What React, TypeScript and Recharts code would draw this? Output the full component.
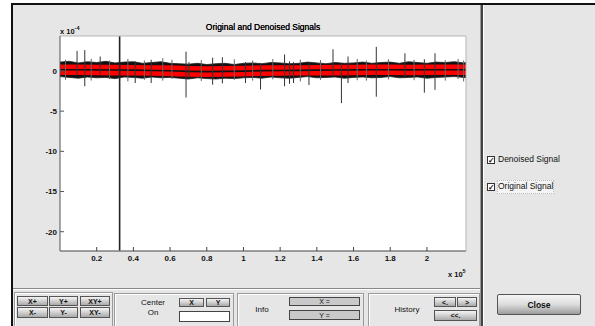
import React from 'react';
import { ComposedChart, Area, Line, XAxis, YAxis, CartesianGrid } from 'recharts';

// x in units of 1e5 samples, y in units of 1e-4
const xTicks = [0.2, 0.4, 0.6, 0.8, 1, 1.2, 1.4, 1.6, 1.8, 2];
const yTicks = [-20, -15, -10, -5, 0];
const xDomain = [0, 2.213];
const yDomain = [-22.4, 4.35];

// black noise envelope of the original signal
const fringeX = [0, 0.05, 0.1, 0.15, 0.2, 0.25, 0.3, 0.35, 0.4, 0.45, 0.5, 0.55, 0.6, 0.65, 0.7, 0.75, 0.8, 0.85, 0.9, 0.95, 1, 1.05, 1.1, 1.15, 1.2, 1.25, 1.3, 1.35, 1.4, 1.45, 1.5, 1.55, 1.6, 1.65, 1.7, 1.75, 1.8, 1.85, 1.9, 1.95, 2, 2.05, 2.1, 2.15, 2.2, 2.213];
const fringeTop = [1.1, 1.2, 1.0, 1.15, 1.05, 1.2, 1.0, 1.1, 1.15, 0.95, 1.05, 1.15, 0.95, 0.9, 0.85, 0.95, 0.8, 0.9, 0.95, 0.8, 0.95, 1.0, 0.9, 1.05, 1.0, 0.9, 0.95, 1.1, 1.0, 0.9, 1.05, 0.95, 1.0, 1.1, 0.95, 1.05, 1.1, 0.95, 1.15, 1.05, 0.95, 1.1, 1.05, 1.15, 1.0, 1.05];
const fringeBot = [-0.7, -0.8, -0.9, -0.75, -0.85, -0.8, -0.95, -0.75, -0.8, -0.9, -0.75, -0.85, -0.8, -0.9, -1.0, -0.85, -0.95, -1.0, -0.9, -0.95, -0.85, -0.8, -0.9, -0.75, -0.85, -0.9, -0.8, -0.7, -0.85, -0.8, -0.75, -0.9, -0.8, -0.75, -0.85, -0.8, -0.7, -0.85, -0.8, -0.75, -0.9, -0.8, -0.75, -0.7, -0.8, -0.85];

// red denoised signal band and the dark trace through it
const redX = [0, 0.1, 0.2, 0.3, 0.4, 0.5, 0.6, 0.7, 0.8, 0.9, 1, 1.1, 1.2, 1.3, 1.4, 1.5, 1.6, 1.7, 1.8, 1.9, 2, 2.1, 2.2, 2.213];
const redTop = [0.8, 0.8, 0.78, 0.78, 0.75, 0.72, 0.7, 0.62, 0.6, 0.62, 0.65, 0.7, 0.72, 0.72, 0.75, 0.78, 0.78, 0.8, 0.8, 0.78, 0.8, 0.8, 0.8, 0.8];
const redBot = [-0.5, -0.5, -0.52, -0.55, -0.58, -0.6, -0.65, -0.72, -0.75, -0.72, -0.68, -0.62, -0.6, -0.58, -0.55, -0.55, -0.52, -0.5, -0.5, -0.52, -0.5, -0.5, -0.5, -0.5];
const centerVal = [0.15, 0.15, 0.13, 0.12, 0.1, 0.06, 0.03, -0.05, -0.08, -0.05, -0.02, 0.04, 0.06, 0.07, 0.1, 0.12, 0.13, 0.15, 0.15, 0.13, 0.15, 0.15, 0.15, 0.15];

// spikes of the original signal
const spikeX = [0.093, 0.135, 0.219, 0.41, 0.497, 0.687, 0.703, 0.832, 0.885, 1.011, 1.093, 1.224, 1.251, 1.273, 1.357, 1.488, 1.534, 1.57, 1.724, 1.88, 1.986, 2.044];
const spikeUp = [2.5, 2.6, 1.8, 1.2, 1.4, 2.4, 1.1, 1.65, 1.7, 1.1, 1.0, 2.05, 1.2, 1.1, 1.0, 2.7, 0.9, 1.8, 3.0, 2.2, 1.45, 2.2];
const spikeDown = [-0.5, -1.9, -0.4, -1.5, -1.5, -3.3, -0.9, -1.7, -1.55, -1.5, -2.3, -1.9, -1.6, -1.5, -1.75, -0.7, -4.0, -1.5, -3.2, -0.9, -2.7, -2.35];

const whiskerX = [0.03, 0.17, 0.27, 0.37, 0.46, 0.56, 0.61, 0.77, 0.95, 1.05, 1.16, 1.31, 1.42, 1.62, 1.67, 1.79, 1.93, 2.1, 2.17, 2.2];
const whiskerUp = [1.4, 1.5, 1.3, 1.5, 1.3, 1.6, 1.4, 1.35, 1.45, 1.3, 1.5, 1.4, 1.35, 1.5, 1.3, 1.45, 1.4, 1.35, 1.5, 1.3];
const whiskerDown = [-1.1, -1.2, -1.0, -1.3, -1.1, -1.2, -1.0, -1.25, -1.1, -1.2, -1.05, -1.3, -1.1, -1.15, -1.2, -1.05, -1.15, -1.2, -1.0, -1.3];

const bigSpikeX = 0.325;
const bigSpikeY = [4.35, -22.35];

type Row = {
    x: number;
    fringe?: number[];
    red?: number[];
    center?: number;
    spike?: number | null;
    whisker?: number | null;
    big?: number | null;
};

const rows: Row[] = [];
fringeX.forEach((x, i) => rows.push({ x, fringe: [fringeBot[i], fringeTop[i]] }));
redX.forEach((x, i) => rows.push({ x, red: [redBot[i], redTop[i]], center: centerVal[i] }));
whiskerX.forEach((x, i) => {
    rows.push({ x, whisker: whiskerUp[i] }, { x, whisker: whiskerDown[i] }, { x, whisker: null });
});
spikeX.forEach((x, i) => {
    rows.push({ x, spike: spikeUp[i] }, { x, spike: spikeDown[i] }, { x, spike: null });
});
rows.push({ x: bigSpikeX, big: bigSpikeY[0] }, { x: bigSpikeX, big: bigSpikeY[1] }, { x: bigSpikeX, big: null });
rows.sort((a, b) => a.x - b.x);

const font = "'Liberation Sans', Arial, sans-serif";

const Btn = ({ left, top, w, h, label }: any) => (
    <div
        style={{
            position: 'absolute', left, top, width: w, height: h,
            boxSizing: 'border-box', border: '1px solid #555',
            background: 'linear-gradient(#f4f4f4, #d4d4d4 45%, #a9a9a9)',
            fontSize: 7, fontWeight: 'bold', color: '#111',
            display: 'flex', alignItems: 'center', justifyContent: 'center',
        }}
    >
        {label}
    </div>
);

const Field = ({ left, top, w, h, label, bg }: any) => (
    <div
        style={{
            position: 'absolute', left, top, width: w, height: h,
            boxSizing: 'border-box', border: '1px solid #444', background: bg,
            fontSize: 7, color: '#111',
            display: 'flex', alignItems: 'center', justifyContent: 'center',
        }}
    >
        {label}
    </div>
);

const Panel = ({ left, top, w, h }: any) => (
    <div
        style={{
            position: 'absolute', left, top, width: w, height: h,
            boxSizing: 'border-box', border: '1px solid #9a9a9a',
            boxShadow: 'inset 1px 1px 0 #fff',
        }}
    />
);

const Label = ({ left, top, text, size = 8 }: any) => (
    <div style={{ position: 'absolute', left, top, fontSize: size, color: '#111', whiteSpace: 'nowrap', lineHeight: 1 }}>
        {text}
    </div>
);

const CheckBox = ({ left, top }: any) => (
    <div
        style={{
            position: 'absolute', left, top, width: 8, height: 8,
            boxSizing: 'border-box', border: '1px solid #333', background: '#fff',
            fontSize: 8, lineHeight: '7px', textAlign: 'center', fontWeight: 'bold', color: '#111',
        }}
    >
        ✓
    </div>
);

const tickStyle = { fill: '#111', fontSize: 8, fontWeight: 'bold', fontFamily: font };

export default function App() {
    return (
        <div
            style={{
                position: 'absolute', left: 0, top: 0, width: 595, height: 326,
                overflow: 'hidden', background: '#fff', fontFamily: font,
            }}
        >
            {/* figure background and frame */}
            <div style={{ position: 'absolute', left: 13, top: 5, width: 582, height: 321, background: '#e6e6e6' }} />
            <div style={{ position: 'absolute', left: 11, top: 3, width: 584, height: 2, background: '#111' }} />
            <div style={{ position: 'absolute', left: 11, top: 3, width: 2, height: 323, background: '#111' }} />
            <div style={{ position: 'absolute', left: 480, top: 5, width: 1, height: 321, background: '#999' }} />
            <div style={{ position: 'absolute', left: 481, top: 5, width: 2, height: 321, background: '#444' }} />
            <div style={{ position: 'absolute', left: 483, top: 5, width: 1, height: 321, background: '#fff' }} />
            <div style={{ position: 'absolute', left: 13, top: 288, width: 467, height: 1, background: '#888' }} />
            <div style={{ position: 'absolute', left: 13, top: 289, width: 467, height: 1, background: '#fff' }} />

            <ComposedChart
                width={595}
                height={326}
                data={rows}
                margin={{ top: 26, right: 119, bottom: 55, left: 30 }}
                style={{ position: 'absolute', left: 0, top: 0 }}
            >
                <CartesianGrid horizontal={false} vertical={false} fill="#ffffff" />
                <XAxis
                    dataKey="x"
                    type="number"
                    domain={xDomain}
                    ticks={xTicks}
                    allowDataOverflow
                    height={20}
                    tickSize={-4}
                    tickMargin={8}
                    stroke="#444"
                    tick={tickStyle}
                />
                <XAxis
                    xAxisId="top"
                    orientation="top"
                    dataKey="x"
                    type="number"
                    domain={xDomain}
                    ticks={xTicks}
                    allowDataOverflow
                    height={10}
                    tickSize={-4}
                    tick={false}
                    axisLine={{ stroke: '#b5b5b5' }}
                    tickLine={{ stroke: '#555' }}
                />
                <YAxis
                    type="number"
                    domain={yDomain}
                    ticks={yTicks}
                    allowDataOverflow
                    width={30}
                    tickSize={-4}
                    tickMargin={7}
                    stroke="#555"
                    tick={tickStyle}
                />
                <YAxis
                    yAxisId="r"
                    orientation="right"
                    type="number"
                    domain={yDomain}
                    ticks={yTicks}
                    allowDataOverflow
                    width={10}
                    tickSize={-4}
                    tick={false}
                    axisLine={{ stroke: '#b5b5b5' }}
                    tickLine={{ stroke: '#555' }}
                />
                <Area
                    type="linear"
                    dataKey="fringe"
                    connectNulls
                    stroke="#222"
                    strokeWidth={0.8}
                    fill="#111"
                    fillOpacity={1}
                    isAnimationActive={false}
                    dot={false}
                    activeDot={false}
                />
                <Area
                    type="linear"
                    dataKey="red"
                    connectNulls
                    stroke="none"
                    fill="#ff0000"
                    fillOpacity={1}
                    isAnimationActive={false}
                    dot={false}
                    activeDot={false}
                />
                <Line
                    type="linear"
                    dataKey="center"
                    connectNulls
                    stroke="#111"
                    strokeWidth={1.6}
                    dot={false}
                    activeDot={false}
                    isAnimationActive={false}
                />
                <Line
                    type="linear"
                    dataKey="whisker"
                    stroke="#666"
                    strokeWidth={1}
                    dot={false}
                    activeDot={false}
                    isAnimationActive={false}
                />
                <Line
                    type="linear"
                    dataKey="spike"
                    stroke="#333"
                    strokeWidth={1}
                    dot={false}
                    activeDot={false}
                    isAnimationActive={false}
                />
                <Line
                    type="linear"
                    dataKey="big"
                    stroke="#222"
                    strokeWidth={1.6}
                    dot={false}
                    activeDot={false}
                    isAnimationActive={false}
                />
            </ComposedChart>

            {/* axis annotations */}
            <div style={{ position: 'absolute', left: 0, width: 526, top: 22, textAlign: 'center', fontSize: 8.5, color: '#000', textShadow: '0 0 0.4px #000' }}>
                Original and Denoised Signals
            </div>
            <div style={{ position: 'absolute', left: 60, top: 25, fontSize: 7.5, fontWeight: 'bold', color: '#111' }}>
                x 10<sup style={{ fontSize: 5.5, verticalAlign: 4 }}>-4</sup>
            </div>
            <div style={{ position: 'absolute', left: 448, top: 268, fontSize: 7.5, fontWeight: 'bold', color: '#111' }}>
                x 10<sup style={{ fontSize: 5.5, verticalAlign: 4 }}>5</sup>
            </div>

            {/* legend checkboxes */}
            <CheckBox left={487} top={156} />
            <Label left={498} top={155} text="Denoised Signal" size={8.5} />
            <div style={{ position: 'absolute', left: 497, top: 180, width: 57, height: 14, background: '#f4f4f4', border: '1px dotted #bbb', boxSizing: 'border-box' }} />
            <CheckBox left={487} top={183} />
            <Label left={498} top={182} text="Original Signal" size={8.5} />

            {/* bottom control panels */}
            <Panel left={14} top={292} w={99} h={40} />
            <Panel left={114} top={293} w={120} h={40} />
            <Panel left={237} top={293} w={127} h={40} />
            <Panel left={368} top={293} w={112} h={40} />

            <Btn left={17} top={296} w={31} h={10} label="X+" />
            <Btn left={49} top={296} w={29} h={10} label="Y+" />
            <Btn left={80} top={296} w={30} h={10} label="XY+" />
            <Btn left={17} top={307} w={31} h={11} label="X-" />
            <Btn left={49} top={307} w={29} h={11} label="Y-" />
            <Btn left={80} top={307} w={30} h={11} label="XY-" />

            <div style={{ position: 'absolute', left: 128, width: 50, top: 298, textAlign: 'center', fontSize: 8, color: '#111', lineHeight: '10px' }}>
                Center<br />On
            </div>
            <Btn left={179} top={298} w={25} h={9} label="X" />
            <Btn left={206} top={298} w={24} h={9} label="Y" />
            <Field left={179} top={311} w={51} h={11} label="" bg="#fff" />

            <div style={{ position: 'absolute', left: 240, width: 44, top: 305, textAlign: 'center', fontSize: 8, color: '#111' }}>Info</div>
            <Field left={289} top={297} w={71} h={9} label="X =" bg="#c9c9c9" />
            <Field left={289} top={310} w={71} h={10} label="Y =" bg="#c9c9c9" />

            <div style={{ position: 'absolute', left: 380, width: 54, top: 305, textAlign: 'center', fontSize: 8, color: '#111' }}>History</div>
            <Btn left={434} top={297} w={22} h={10} label="<." />
            <Btn left={457} top={297} w={20} h={10} label=">" />
            <Btn left={434} top={310} w={43} h={11} label="<<." />

            <div
                style={{
                    position: 'absolute', left: 497, top: 294, width: 84, height: 21,
                    boxSizing: 'border-box', border: '1px solid #555', borderRadius: 2,
                    background: 'linear-gradient(#f6f6f6, #dcdcdc 50%, #9c9c9c)',
                    fontSize: 8.5, fontWeight: 'bold', color: '#111',
                    display: 'flex', alignItems: 'center', justifyContent: 'center',
                }}
            >
                Close
            </div>
        </div>
    );
}
